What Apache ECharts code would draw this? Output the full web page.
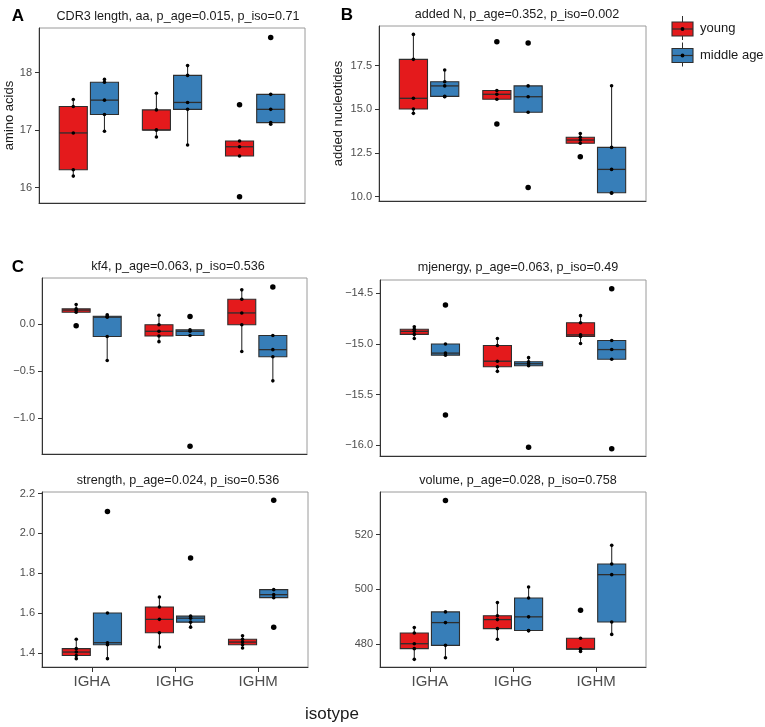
<!DOCTYPE html>
<html>
<head>
    <meta charset="UTF-8"/>
    <script src="https://cdn.jsdelivr.net/npm/echarts@6/dist/echarts.min.js"></script>
    <title>isotype boxplots</title>
    <style>
        html, body { margin: 0; padding: 0; background: #fff; }
        #main { width: 765px; height: 727px; }
    </style>
</head>
<body>
<div id="main"></div>
<script type="text/javascript">
    // categories
    var isotypes = ['IGHA', 'IGHG', 'IGHM'];

    // values per isotype (IGHA, IGHG, IGHM)
    var cdr3Young = [[16.20, 16.31, 16.95, 17.41, 17.53], [16.88, 17.00, 17.00, 17.35, 17.64], [15.84, 16.55, 16.71, 16.81, 17.44]];
    var cdr3Middle = [[16.98, 17.27, 17.52, 17.83, 17.88], [16.74, 17.36, 17.48, 17.95, 18.12], [17.10, 17.13, 17.36, 17.62, 18.61]];

    var addedNYoung = [[14.77, 15.02, 15.63, 17.86, 19.29], [14.16, 15.58, 15.86, 16.08, 18.87], [12.29, 13.06, 13.24, 13.40, 13.61]];
    var addedNMiddle = [[15.72, 15.74, 16.34, 16.58, 17.25], [10.53, 14.83, 15.72, 16.34, 18.80], [10.19, 10.22, 11.56, 12.82, 16.35]];

    var kf4Young = [[-0.02, 0.123, 0.145, 0.158, 0.205], [-0.19, -0.13, -0.08, -0.01, 0.09], [-0.295, -0.01, 0.115, 0.26, 0.36]];
    var kf4Middle = [[-0.39, -0.135, 0.07, 0.08, 0.096], [-1.30, -0.125, -0.08, -0.065, 0.078], [-0.606, -0.35, -0.275, -0.125, 0.39]];

    var mjYoung = [[-14.945, -14.905, -14.875, -14.855, -14.83], [-15.27, -15.225, -15.17, -15.015, -14.945], [-14.995, -14.925, -14.91, -14.79, -14.72]];
    var mjMiddle = [[-15.70, -15.11, -15.09, -15.00, -14.615], [-16.02, -15.215, -15.195, -15.175, -15.135], [-16.035, -15.15, -15.055, -14.965, -14.455]];

    var strengthYoung = [[1.372, 1.388, 1.405, 1.422, 1.469], [1.430, 1.502, 1.569, 1.631, 1.681], [1.425, 1.442, 1.455, 1.469, 1.487]];
    var strengthMiddle = [[1.372, 1.442, 1.452, 1.601, 2.110], [1.530, 1.555, 1.575, 1.585, 1.877], [1.530, 1.678, 1.693, 1.718, 2.166]];

    var volumeYoung = [[474.5, 478.4, 480.2, 484.1, 486.1], [481.8, 485.7, 489.0, 490.4, 495.2], [477.4, 478.2, 478.3, 482.2, 492.4]];
    var volumeMiddle = [[475.1, 479.6, 487.9, 491.8, 532.5], [484.9, 485.0, 490.0, 496.9, 500.9], [483.6, 488.1, 505.4, 509.3, 516.1]];

    // tick labels
    var cdr3Ticks = [16, 17, 18];
    var addedNTicks = [10, 12.5, 15, 17.5];
    var kf4Ticks = [-1, -0.5, 0];
    var mjTicks = [-16, -15.5, -15, -14.5];
    var strengthTicks = [1.4, 1.6, 1.8, 2.0, 2.2];
    var volumeTicks = [480, 500, 520];

    var RED = '#E41A1C';
    var BLUE = '#377EB8';
    var FONT = 'Liberation Sans, Arial, sans-serif';
    var DODGE = 0.1875;
    var BOX_W = 0.3375;

    var panels = [
        {title: 'CDR3 length, aa, p_age=0.015, p_iso=0.71', young: cdr3Young, middle: cdr3Middle,
            ticks: cdr3Ticks, digits: 0, min: 15.733, max: 18.773, yName: 'amino acids', nameGap: 21,
            grid: {left: 39, top: 28, width: 266, height: 175}, titleX: 173, titleY: 5},
        {title: 'added N, p_age=0.352, p_iso=0.002', young: addedNYoung, middle: addedNMiddle,
            ticks: addedNTicks, digits: 1, min: 9.75, max: 19.77, yName: 'added nucleotides', nameGap: 34,
            grid: {left: 379, top: 26, width: 267, height: 175}, titleX: 512, titleY: 3},
        {title: 'kf4, p_age=0.063, p_iso=0.536', young: kf4Young, middle: kf4Middle,
            ticks: kf4Ticks, digits: 1, min: -1.383, max: 0.486,
            grid: {left: 42, top: 278, width: 265, height: 176}, titleX: 173, titleY: 255},
        {title: 'mjenergy, p_age=0.063, p_iso=0.49', young: mjYoung, middle: mjMiddle,
            ticks: mjTicks, digits: 1, min: -16.106, max: -14.368,
            grid: {left: 380, top: 280, width: 266, height: 176}, titleX: 513, titleY: 256},
        {title: 'strength, p_age=0.024, p_iso=0.536', young: strengthYoung, middle: strengthMiddle,
            ticks: strengthTicks, digits: 1, min: 1.33, max: 2.208, bottom: true,
            grid: {left: 42, top: 492, width: 266, height: 175}, titleX: 173, titleY: 469},
        {title: 'volume, p_age=0.028, p_iso=0.758', young: volumeYoung, middle: volumeMiddle,
            ticks: volumeTicks, digits: 0, min: 471.7, max: 535.56, bottom: true,
            grid: {left: 380, top: 492, width: 266, height: 175}, titleX: 513, titleY: 469}
    ];

    // quantile type 7 (same as R default)
    function quantile(sorted, p) {
        var h = (sorted.length - 1) * p;
        var lo = Math.floor(h);
        var e = h - lo;
        return lo + 1 < sorted.length ? sorted[lo] + e * (sorted[lo + 1] - sorted[lo]) : sorted[lo];
    }

    function boxStats(values) {
        var s = values.slice().sort(function (a, b) { return a - b; });
        var q1 = quantile(s, 0.25), med = quantile(s, 0.5), q3 = quantile(s, 0.75);
        var iqr = q3 - q1;
        var inside = s.filter(function (v) { return v >= q1 - 1.5 * iqr && v <= q3 + 1.5 * iqr; });
        var out = s.filter(function (v) { return v < q1 - 1.5 * iqr || v > q3 + 1.5 * iqr; });
        return {lo: inside[0], q1: q1, med: med, q3: q3, hi: inside[inside.length - 1], out: out};
    }

    function renderBox(params, api) {
        var x = api.value(0);
        var lo = api.coord([x, api.value(1)]);
        var q1 = api.coord([x, api.value(2)]);
        var med = api.coord([x, api.value(3)]);
        var q3 = api.coord([x, api.value(4)]);
        var hi = api.coord([x, api.value(5)]);
        var w = api.size([BOX_W, 0])[0];
        var edge = '#2e2e2e';
        return {
            type: 'group',
            children: [
                {type: 'line', shape: {x1: lo[0], y1: lo[1], x2: q1[0], y2: q1[1]}, style: {stroke: edge, lineWidth: 1.1}},
                {type: 'line', shape: {x1: q3[0], y1: q3[1], x2: hi[0], y2: hi[1]}, style: {stroke: edge, lineWidth: 1.1}},
                {type: 'rect', shape: {x: q3[0] - w / 2, y: q3[1], width: w, height: Math.max(q1[1] - q3[1], 0.5)},
                    style: {fill: api.visual('color'), stroke: edge, lineWidth: 1.1}},
                {type: 'line', shape: {x1: med[0] - w / 2, y1: med[1], x2: med[0] + w / 2, y2: med[1]},
                    style: {stroke: edge, lineWidth: 1.3}}
            ]
        };
    }

    function fmt(digits) {
        return function (v) {
            return v.toFixed(digits).replace('-', '\u2212');
        };
    }

    var grids = [], xAxes = [], yAxes = [], series = [], titles = [];

    panels.forEach(function (p, i) {
        grids.push({
            left: p.grid.left, top: p.grid.top, width: p.grid.width, height: p.grid.height,
            show: true, borderColor: '#9a9a9a', borderWidth: 1, backgroundColor: '#fff',
            containLabel: false, outerBoundsMode: 'none'
        });
        xAxes.push({
            gridIndex: i, type: 'value', min: 0.4, max: 3.6,
            axisLine: {show: true, onZero: false, lineStyle: {color: '#333', width: 1}},
            axisTick: {show: !!p.bottom, length: 5, customValues: [1, 2, 3], lineStyle: {color: '#333'}},
            axisLabel: {show: !!p.bottom, customValues: [1, 2, 3], margin: 7, color: '#4d4d4d',
                fontSize: 15, fontFamily: FONT, formatter: function (v) { return isotypes[Math.round(v) - 1]; }},
            splitLine: {show: false}
        });
        yAxes.push({
            gridIndex: i, type: 'value', min: p.min, max: p.max,
            name: p.yName || '', nameLocation: 'middle', nameGap: p.nameGap || 20,
            nameTextStyle: {fontSize: 13, color: '#1a1a1a', fontFamily: FONT},
            axisLine: {show: true, onZero: false, lineStyle: {color: '#333', width: 1}},
            axisTick: {show: true, length: 4, customValues: p.ticks, lineStyle: {color: '#333'}},
            axisLabel: {customValues: p.ticks, margin: 7, color: '#4d4d4d', fontSize: 11,
                fontFamily: FONT, formatter: fmt(p.digits)},
            splitLine: {show: false}
        });
        titles.push({
            text: p.title, left: p.titleX, top: p.titleY, textAlign: 'center',
            textStyle: {fontSize: 12.6, fontWeight: 'normal', color: '#1a1a1a', fontFamily: FONT}
        });

        var groups = [{vals: p.young, color: RED, off: -DODGE, name: 'young'},
            {vals: p.middle, color: BLUE, off: DODGE, name: 'middle age'}];
        var dots = [], outliers = [];
        groups.forEach(function (g) {
            var boxes = g.vals.map(function (vals, k) {
                var st = boxStats(vals);
                var x = k + 1 + g.off;
                vals.forEach(function (v) { dots.push([x, v]); });
                st.out.forEach(function (v) { outliers.push([x, v]); });
                return [x, st.lo, st.q1, st.med, st.q3, st.hi];
            });
            series.push({
                type: 'custom', name: g.name, xAxisIndex: i, yAxisIndex: i,
                renderItem: renderBox, itemStyle: {color: g.color},
                encode: {x: 0, y: [1, 2, 3, 4, 5]}, data: boxes, z: 2, silent: true
            });
        });
        series.push({
            type: 'scatter', xAxisIndex: i, yAxisIndex: i, data: outliers,
            symbolSize: 5.5, itemStyle: {color: '#000', opacity: 1}, z: 3, silent: true
        });
        series.push({
            type: 'scatter', xAxisIndex: i, yAxisIndex: i, data: dots,
            symbolSize: 3.6, itemStyle: {color: '#000', opacity: 1}, z: 4, silent: true
        });
    });

    // panel letters
    [['A', 13, 12], ['B', 342, 11], ['C', 13, 263]].forEach(function (l) {
        titles.push({
            text: l[0], left: l[1], top: l[2] - 9, textAlign: 'center',
            textStyle: {fontSize: 17, fontWeight: 'bold', color: '#000', fontFamily: FONT}
        });
    });

    function legendKey(y, color) {
        var cx = 682.5;
        return [
            {type: 'line', shape: {x1: cx, y1: y - 13, x2: cx, y2: y + 11}, style: {stroke: '#2e2e2e', lineWidth: 1}},
            {type: 'rect', shape: {x: 672, y: y - 7, width: 21, height: 14}, style: {fill: color, stroke: '#2e2e2e', lineWidth: 1.1}},
            {type: 'line', shape: {x1: 672, y1: y, x2: 693, y2: y}, style: {stroke: '#2e2e2e', lineWidth: 1.2}},
            {type: 'circle', shape: {cx: cx, cy: y, r: 1.9}, style: {fill: '#000'}}
        ];
    }

    var graphics = [].concat(
        legendKey(29, RED),
        legendKey(55.5, BLUE),
        [
            {type: 'text', left: 700, top: 22, style: {text: 'young', fontSize: 13, fill: '#1a1a1a', fontFamily: FONT}},
            {type: 'text', left: 700, top: 49, style: {text: 'middle age', fontSize: 13, fill: '#1a1a1a', fontFamily: FONT}},
            {type: 'text', left: 305, top: 706, style: {text: 'isotype', fontSize: 17, fill: '#1a1a1a', fontFamily: FONT}}
        ]
    );

    var myChart = echarts.init(document.getElementById('main'), null, {renderer: 'canvas'});
    myChart.setOption({
        animation: false,
        backgroundColor: '#fff',
        title: titles,
        grid: grids,
        xAxis: xAxes,
        yAxis: yAxes,
        series: series,
        graphic: graphics
    });
</script>
</body>
</html>
